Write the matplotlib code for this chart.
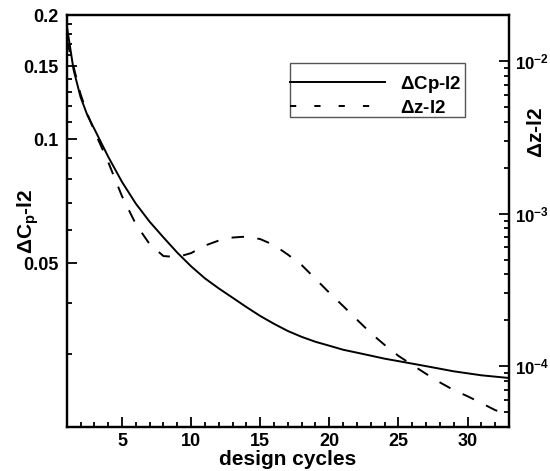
import math
import matplotlib
matplotlib.use("Agg")
import matplotlib.pyplot as plt
from matplotlib.ticker import FixedLocator, FixedFormatter, LogLocator, FuncFormatter, MultipleLocator, NullFormatter
from matplotlib.lines import Line2D
from matplotlib.patches import Rectangle

plt.rcParams['font.family'] = ['Liberation Sans', 'DejaVu Sans']
plt.rcParams['font.weight'] = 'bold'
plt.rcParams['mathtext.fontset'] = 'custom'
plt.rcParams['mathtext.rm'] = 'Liberation Sans'
plt.rcParams['mathtext.it'] = 'Liberation Sans:italic'
plt.rcParams['mathtext.bf'] = 'Liberation Sans:bold'
plt.rcParams['lines.scale_dashes'] = False

# design cycle history of the two L2 residual norms
cycles = [1, 1.5, 2, 2.5, 3, 4, 5, 6, 7, 8, 9, 10, 11, 12, 13, 14, 15, 16, 17, 18,
          19, 20, 21, 22, 23, 24, 25, 26, 27, 28, 29, 30, 31, 32, 33]
dcp_l2 = [0.1891, 0.1471, 0.1265, 0.1141, 0.1058, 0.0906, 0.0787, 0.0697, 0.0630, 0.0577,
          0.0530, 0.0491, 0.0459, 0.0434, 0.0412, 0.0391, 0.0372, 0.0356, 0.0342, 0.0331,
          0.0322, 0.0315, 0.0308, 0.0303, 0.0298, 0.0293, 0.0289, 0.0285, 0.0281, 0.0277,
          0.0273, 0.0270, 0.0267, 0.0265, 0.0263]
dz_l2 = [0.01372, 0.00913, 0.00607, 0.00449, 0.00347, 0.00218, 0.00130, 0.000854, 0.000631, 0.000527,
         0.000519, 0.000551, 0.000617, 0.000666, 0.000697, 0.000707, 0.000681, 0.000622, 0.000539, 0.000460,
         0.000374, 0.000303, 0.000248, 0.000202, 0.000165, 0.000138, 0.000117, 0.000102, 8.92e-5, 7.84e-5,
         6.98e-5, 6.36e-5, 5.74e-5, 5.16e-5, 4.78e-5]

left_ticks = [0.05, 0.1, 0.15, 0.2]
left_tick_labels = ['0.05', '0.1', '0.15', '0.2']
x_ticks = [5, 10, 15, 20, 25, 30]
series_labels = [r'$\Delta$Cp-l2', r'$\Delta$z-l2']

fig = plt.figure(figsize=(5.5, 4.71), dpi=100)
ax = fig.add_axes([66.7 / 550, 44 / 471, (509 - 66.7) / 550, 412 / 471])
ax2 = ax.twinx()

ax.plot(cycles, dcp_l2, color='black', lw=1.4)
ax2.plot(cycles, dz_l2, color='black', lw=1.4, linestyle=(0, (9, 9.7)))

ax.set_xlim(1, 33)
ax.set_yscale('log')
ax.set_ylim(0.02, 0.2)
ax2.set_yscale('log')
ax2.set_ylim(4e-5, 2e-2)

# x axis
ax.xaxis.set_major_locator(FixedLocator(x_ticks))
ax.xaxis.set_major_formatter(FixedFormatter([str(t) for t in x_ticks]))
ax.xaxis.set_minor_locator(MultipleLocator(1))

# left axis
ax.yaxis.set_major_locator(FixedLocator(left_ticks))
ax.yaxis.set_major_formatter(FixedFormatter(left_tick_labels))
minor_left = [v / 100 for v in range(2, 20) if v not in (5, 10, 15)]
ax.yaxis.set_minor_locator(FixedLocator(minor_left))
ax.yaxis.set_minor_formatter(NullFormatter())

# right axis
ax2.yaxis.set_major_locator(LogLocator(base=10, numticks=10))
ax2.yaxis.set_minor_locator(LogLocator(base=10, subs=range(2, 10), numticks=20))
ax2.yaxis.set_minor_formatter(NullFormatter())
ax2.yaxis.set_major_formatter(FuncFormatter(lambda v, p: r'$\mathbf{10^{%d}}$' % round(math.log10(v))))

ax.tick_params(axis='both', which='both', direction='in', width=1.3, top=False, right=False,
               labelsize=13)
ax.tick_params(axis='both', which='major', length=7)
ax.tick_params(axis='both', which='minor', length=3.5)
ax.tick_params(axis='x', which='major', pad=4)
ax.tick_params(axis='y', which='major', pad=6)
ax2.tick_params(axis='y', which='both', direction='in', width=1.3, labelsize=12.2)
ax2.tick_params(axis='y', which='major', length=7, pad=4.5)
ax2.tick_params(axis='y', which='minor', length=3.5)

for a in (ax, ax2):
    for s in a.spines.values():
        s.set_linewidth(1.6)

ax.set_xlabel('design cycles', fontsize=15, fontweight='bold', labelpad=0.5)
ax.set_ylabel(r'$\Delta$C$_\mathbf{p}$-l2', fontsize=15, fontweight='bold')
ax.yaxis.set_label_coords(-0.058, 0.5)
ax2.set_ylabel(r'$\Delta$z-l2', fontsize=15, fontweight='bold')
ax2.yaxis.set_label_coords(1.041, 0.715)

# legend with a plain rectangular frame
handles = [Line2D([], [], color='black', lw=1.4),
           Line2D([], [], color='black', lw=1.4, linestyle=(0, (4.5, 13)))]
leg = ax.legend(handles, series_labels,
                loc='upper left', bbox_to_anchor=((290 - 66.7) / 442.3, (427 - 74) / 412),
                prop={'size': 13.5, 'weight': 'bold'}, frameon=False, borderpad=0,
                handlelength=5.07, handletextpad=0.8, labelspacing=0.25, borderaxespad=0)
ax.add_patch(Rectangle(((290 - 66.7) / 442.3, (427 - 117) / 412),
                       (465 - 290) / 442.3, (117 - 63) / 412, transform=ax.transAxes,
                       fill=False, edgecolor='#555555', lw=1.0, zorder=5))

fig.savefig('out.png', dpi=100)
